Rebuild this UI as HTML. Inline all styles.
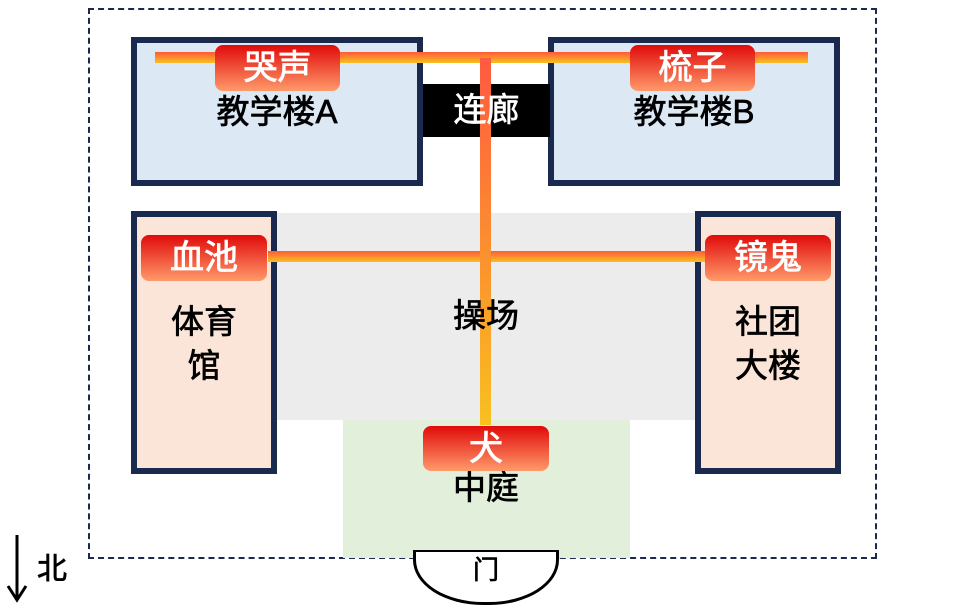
<!DOCTYPE html>
<html><head><meta charset="utf-8"><style>
body{margin:0;width:954px;height:612px;background:#fff;position:relative;overflow:hidden;font-family:"Liberation Sans","Noto Sans CJK SC",sans-serif}
div{position:absolute;box-sizing:border-box}
.b{border:6px solid #1a2a4f}
.t{font-size:33px;color:#000;text-align:center;line-height:44px;-webkit-text-stroke:0.7px #000}
.lab{background:linear-gradient(#e00a0a,#ff9a6a);border-radius:8px;color:#fff;font-size:34px;text-align:center;line-height:46px;-webkit-text-stroke:0.8px #fff}
.hb{background:linear-gradient(#ff5a3a,#f8c020)}
</style></head><body>
<div style="left:88px;top:8px;width:789px;height:551px;border:2px dashed #1a2a4f"></div>
<div style="left:277px;top:213px;width:418px;height:207px;background:#ececec"></div>
<div style="left:343px;top:420px;width:287px;height:138px;background:#e2efda"></div>
<div class="b" style="left:131px;top:37px;width:292px;height:149px;background:#dde8f5"></div>
<div class="b" style="left:548px;top:37px;width:292px;height:149px;background:#dde8f5"></div>
<div style="left:423px;top:84px;width:127px;height:53px;background:#000"></div>
<div class="b" style="left:131px;top:211px;width:146px;height:263px;background:#fbe5d8"></div>
<div class="b" style="left:695px;top:211px;width:146px;height:263px;background:#fbe5d8"></div>
<div style="left:413px;top:550px;width:146px;height:55px;border:3px solid #000;border-top:2px solid #000;border-radius:0 0 70px 70px/0 0 45px 45px;background:#fff"></div>
<div class="t" style="left:413px;top:555px;width:146px;font-size:26px;line-height:30px">门</div>
<div class="hb" style="left:155px;top:52px;width:653px;height:11px"></div>
<div class="hb" style="left:268px;top:251px;width:437px;height:11px"></div>
<div style="left:480px;top:58px;width:11px;height:367px;background:linear-gradient(#ff5a40,#f8c020)"></div>
<div class="t" style="left:131px;top:90px;width:292px">教学楼A</div>
<div class="t" style="left:548px;top:90px;width:292px">教学楼B</div>
<div class="t" style="left:423px;top:88px;width:127px;color:#fff;-webkit-text-stroke:0.7px #fff">连廊</div>
<div class="t" style="left:131px;top:300px;width:146px">体育<br>馆</div>
<div class="t" style="left:695px;top:300px;width:146px">社团<br>大楼</div>
<div class="t" style="left:400px;top:294px;width:172px">操场</div>
<div class="t" style="left:400px;top:466px;width:172px">中庭</div>
<div class="lab" style="left:215px;top:45px;width:125px;height:46px">哭声</div>
<div class="lab" style="left:630px;top:45px;width:125px;height:46px">梳子</div>
<div class="lab" style="left:141px;top:235px;width:126px;height:46px">血池</div>
<div class="lab" style="left:705px;top:235px;width:126px;height:46px">镜鬼</div>
<div class="lab" style="left:423px;top:426px;width:126px;height:45px">犬</div>
<svg style="position:absolute;left:0;top:0" width="954" height="612"><line x1="17" y1="535" x2="17" y2="598" stroke="#000" stroke-width="3"/><polyline points="8,586 17,600 26,586" fill="none" stroke="#000" stroke-width="3"/></svg>
<div class="t" style="left:32px;top:548px;width:40px;font-size:30px">北</div>
</body></html>
